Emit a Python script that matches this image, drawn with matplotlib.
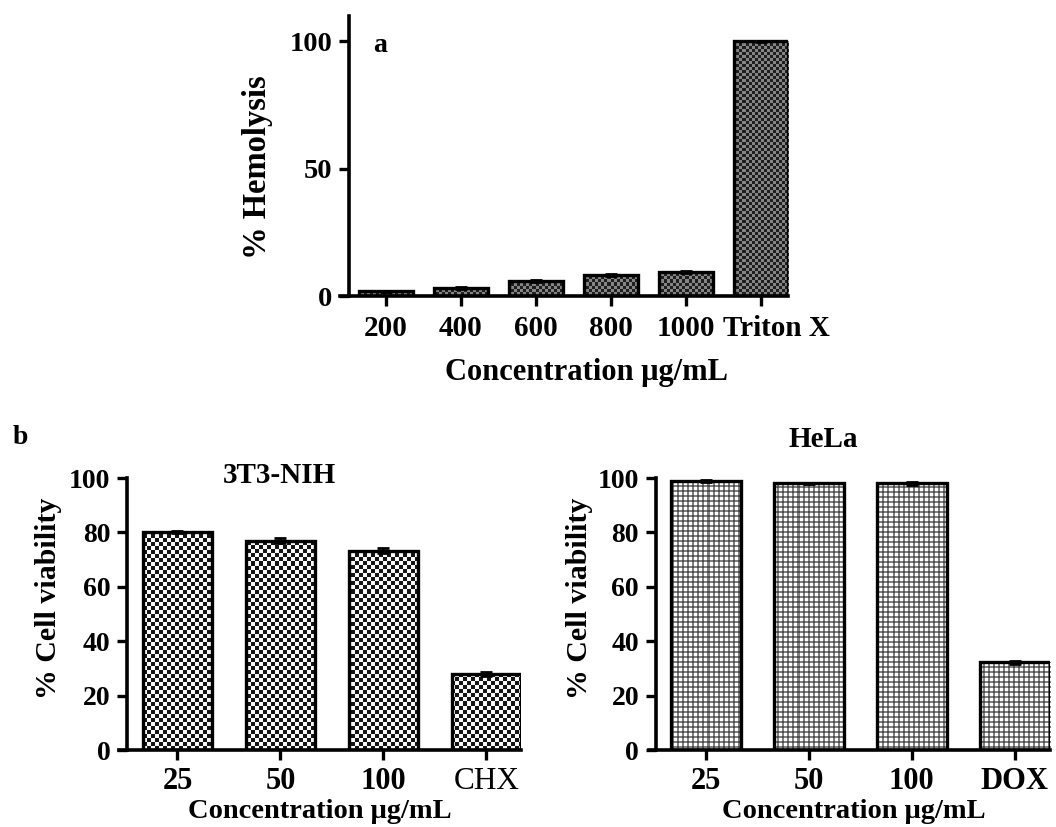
import matplotlib
matplotlib.use("Agg")
import matplotlib.pyplot as plt
import matplotlib.transforms as mtransforms
import numpy as np

plt.rcParams['font.family'] = ['Liberation Serif', 'DejaVu Serif']
plt.rcParams['font.weight'] = 'bold'
plt.rcParams['axes.labelweight'] = 'bold'
plt.rcParams['axes.titleweight'] = 'bold'

# Panel a data
hemo_labels = ["200", "400", "600", "800", "1000", "Triton X"]
hemo_values = [1.8, 3.2, 6.0, 8.3, 9.5, 100.0]
hemo_err = [0.3, 0.3, 0.4, 0.5, 0.3, 0.2]

# Panel b data
nih_labels = ["25", "50", "100", "CHX"]
nih_values = [80.0, 77.0, 73.3, 28.0]
nih_err = [0.4, 0.8, 0.9, 0.7]

hela_labels = ["25", "50", "100", "DOX"]
hela_values = [99.0, 98.0, 98.0, 32.3]
hela_err = [0.3, 0.3, 0.5, 0.6]

W, H = 1056, 827
fig = plt.figure(figsize=(W / 100, H / 100), dpi=100)


def px_axes(left, right, top, bottom):
    ax = fig.add_axes([left / W, 1 - bottom / H, (right - left) / W, (bottom - top) / H])
    ax._px = (right - left, bottom - top)
    return ax


def style(ax, spine_x, xsize, ysize, xpad):
    for s in ("top", "right"):
        ax.spines[s].set_visible(False)
    for s in ("left", "bottom"):
        ax.spines[s].set_linewidth(2.6)
    ax.spines["left"].set_position(("data", spine_x))
    ax.tick_params(axis="both", width=2.4, length=7, direction="out")
    ax.tick_params(axis="x", pad=xpad, labelsize=xsize)
    ax.tick_params(axis="y", pad=5, labelsize=ysize)


def pat_checker(xx, yy):
    return np.where(((xx // 4) + (yy // 4)) % 2 == 0, 0.08, 0.97)


def pat_grid(xx, yy):
    img = np.ones(xx.shape)
    lx = (xx % 5) >= 3
    ly = (yy % 5) >= 3
    img[lx | ly] = 0.5
    img[lx & ly] = 0.3
    return img


def pat_dark(xx, yy):
    return np.where(((xx // 3) + (yy // 3)) % 2 == 0, 0.12, 0.52)


def draw_bars(ax, x, vals, errs, width, pattern, xlim, ylim):
    ax.set_xlim(*xlim)
    ax.set_ylim(*ylim)
    bars = ax.bar(x, vals, width=width, facecolor="none", edgecolor="black",
                  linewidth=2.4, yerr=errs, capsize=4, zorder=3,
                  error_kw=dict(elinewidth=2, capthick=2, ecolor="black", zorder=4))
    w, h = ax._px
    yy, xx = np.mgrid[0:h, 0:w]
    img = pattern(xx, yy)
    for p in bars.patches:
        im = ax.imshow(img, cmap="gray", vmin=0, vmax=1, origin="upper",
                       extent=(xlim[0], xlim[1], ylim[0], ylim[1]),
                       interpolation="nearest", aspect="auto", zorder=2)
        im.set_clip_path(p)
    ax.set_xlim(*xlim)
    ax.set_ylim(*ylim)


# ---- Panel a ----
axa = px_axes(340, 788, 16, 296)
xa = np.arange(len(hemo_labels))
draw_bars(axa, xa, hemo_values, hemo_err, 0.73, pat_dark, (-0.613, 5.36), (0, 110))
axa.set_yticks([0, 50, 100])
axa.set_xticks(xa)
axa.set_xticklabels(hemo_labels)
style(axa, -0.493, 21, 20.5, 7)
# the last label sits slightly right of its tick in the reference
lbl = axa.get_xticklabels()[-1]
lbl.set_transform(lbl.get_transform() + mtransforms.ScaledTranslation(15 / 100, 0, fig.dpi_scale_trans))
axa.set_ylabel("% Hemolysis", fontsize=23.5)
axa.yaxis.set_label_coords(-0.150, 0.46)
axa.set_xlabel("Concentration μg/mL", fontsize=22)
axa.xaxis.set_label_coords(0.551, -0.221)
axa.text(-0.08, 98.5, "a", fontsize=20, fontweight="bold", va="center", ha="center")

# ---- Panel b left ----
axb1 = px_axes(119, 521, 478, 750)
xb = np.arange(len(nih_labels))
draw_bars(axb1, xb, nih_values, nih_err, 0.67, pat_checker, (-0.568, 3.336), (0, 100))
axb1.set_yticks([0, 20, 40, 60, 80, 100])
axb1.set_xticks(xb)
axb1.set_xticklabels(nih_labels)
style(axb1, -0.49, 22, 20, 5.5)
axb1.get_xticklabels()[-1].set_fontweight("normal")
axb1.get_xticklabels()[-1].set_fontsize(22.5)
axb1.set_ylabel("% Cell viability", fontsize=21.5)
axb1.yaxis.set_label_coords(-0.142, 0.557)
axb1.set_xlabel("Concentration μg/mL", fontsize=20.5)
axb1.xaxis.set_label_coords(0.50, -0.18)
axb1.text(0.4, 1.008, "3T3-NIH", transform=axb1.transAxes, fontsize=21,
          fontweight="bold", ha="center", va="center")

# ---- Panel b right ----
axb2 = px_axes(649, 1050, 478, 750)
draw_bars(axb2, xb, hela_values, hela_err, 0.684, pat_grid, (-0.554, 3.343), (0, 100))
axb2.set_yticks([0, 20, 40, 60, 80, 100])
axb2.set_xticks(xb)
axb2.set_xticklabels(hela_labels)
style(axb2, -0.488, 22, 20, 5.5)
axb2.set_ylabel("% Cell viability", fontsize=21.5)
axb2.yaxis.set_label_coords(-0.140, 0.557)
axb2.set_xlabel("Concentration μg/mL", fontsize=20.5)
axb2.xaxis.set_label_coords(0.51, -0.18)
axb2.text(0.435, 1.140, "HeLa", transform=axb2.transAxes, fontsize=21,
          fontweight="bold", ha="center", va="center")

fig.text(20 / W, 1 - 437 / H, "b", fontsize=20, fontweight="bold", ha="center", va="center")

fig.savefig("out.png", dpi=100)
